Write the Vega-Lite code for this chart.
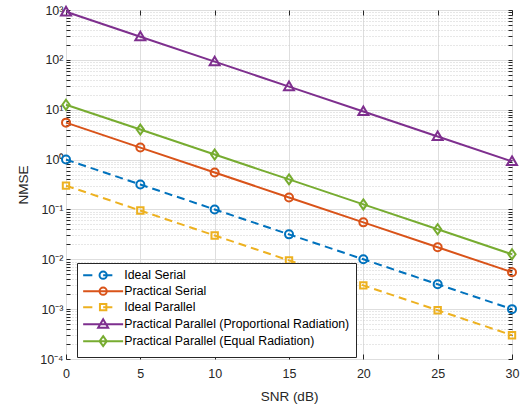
{
  "$schema": "https://vega.github.io/schema/vega-lite/v6.json",
  "width": 446,
  "height": 349,
  "autosize": "none",
  "padding": {"left": 66, "top": 10, "right": 14, "bottom": 48},
  "background": "white",
  "config": {
    "font": "Liberation Sans",
    "view": {"stroke": "#262626", "strokeWidth": 1},
    "axis": {
      "domain": false,
      "tickColor": "#262626",
      "labelColor": "#262626",
      "titleColor": "#262626",
      "labelFont": "Liberation Sans",
      "titleFont": "Liberation Sans",
      "titleFontWeight": "normal",
      "labelFontSize": 12.5,
      "titleFontSize": 13.5
    },
    "legend": {
      "orient": "none", "legendX": 11, "legendY": 253,
      "fillColor": "white", "strokeColor": "#262626",
      "padding": 6,
      "symbolSize": 64, "symbolStrokeWidth": 2, "symbolFillColor": "transparent",
      "symbolOffset": 14, "labelOffset": 15,
      "labelFontSize": 12.3, "labelFont": "Liberation Sans", "labelColor": "#000000",
      "rowPadding": 0, "labelLimit": 400
    }
  },
  "data": {
    "values": [
      {"series": "Ideal Serial", "snr": 0, "nmse": 1},
      {"series": "Ideal Serial", "snr": 5, "nmse": 0.316},
      {"series": "Ideal Serial", "snr": 10, "nmse": 0.1},
      {"series": "Ideal Serial", "snr": 15, "nmse": 0.0316},
      {"series": "Ideal Serial", "snr": 20, "nmse": 0.01},
      {"series": "Ideal Serial", "snr": 25, "nmse": 0.00316},
      {"series": "Ideal Serial", "snr": 30, "nmse": 0.001},
      {"series": "Practical Serial", "snr": 0, "nmse": 5.5},
      {"series": "Practical Serial", "snr": 5, "nmse": 1.74},
      {"series": "Practical Serial", "snr": 10, "nmse": 0.55},
      {"series": "Practical Serial", "snr": 15, "nmse": 0.174},
      {"series": "Practical Serial", "snr": 20, "nmse": 0.055},
      {"series": "Practical Serial", "snr": 25, "nmse": 0.0174},
      {"series": "Practical Serial", "snr": 30, "nmse": 0.0055},
      {"series": "Ideal Parallel", "snr": 0, "nmse": 0.3},
      {"series": "Ideal Parallel", "snr": 5, "nmse": 0.095},
      {"series": "Ideal Parallel", "snr": 10, "nmse": 0.03},
      {"series": "Ideal Parallel", "snr": 15, "nmse": 0.0095},
      {"series": "Ideal Parallel", "snr": 20, "nmse": 0.003},
      {"series": "Ideal Parallel", "snr": 25, "nmse": 0.00095},
      {"series": "Ideal Parallel", "snr": 30, "nmse": 0.0003},
      {"series": "Practical Parallel (Proportional Radiation)", "snr": 0, "nmse": 920},
      {"series": "Practical Parallel (Proportional Radiation)", "snr": 5, "nmse": 291},
      {"series": "Practical Parallel (Proportional Radiation)", "snr": 10, "nmse": 92},
      {"series": "Practical Parallel (Proportional Radiation)", "snr": 15, "nmse": 29.1},
      {"series": "Practical Parallel (Proportional Radiation)", "snr": 20, "nmse": 9.2},
      {"series": "Practical Parallel (Proportional Radiation)", "snr": 25, "nmse": 2.91},
      {"series": "Practical Parallel (Proportional Radiation)", "snr": 30, "nmse": 0.92},
      {"series": "Practical Parallel (Equal Radiation)", "snr": 0, "nmse": 12.6},
      {"series": "Practical Parallel (Equal Radiation)", "snr": 5, "nmse": 4},
      {"series": "Practical Parallel (Equal Radiation)", "snr": 10, "nmse": 1.26},
      {"series": "Practical Parallel (Equal Radiation)", "snr": 15, "nmse": 0.4},
      {"series": "Practical Parallel (Equal Radiation)", "snr": 20, "nmse": 0.126},
      {"series": "Practical Parallel (Equal Radiation)", "snr": 25, "nmse": 0.04},
      {"series": "Practical Parallel (Equal Radiation)", "snr": 30, "nmse": 0.0126}
    ]
  },
  "encoding": {
    "x": {"field": "snr", "type": "quantitative", "scale": {"domain": [0, 30], "nice": false, "zero": false}, "axis": null},
    "y": {"field": "nmse", "type": "quantitative", "scale": {"type": "log", "domain": [0.0001, 1000], "nice": false}, "axis": null},
    "color": {
      "field": "series", "type": "nominal",
      "scale": {
        "domain": ["Ideal Serial", "Practical Serial", "Ideal Parallel", "Practical Parallel (Proportional Radiation)", "Practical Parallel (Equal Radiation)"],
        "range": ["#0072BD", "#D95319", "#EDB120", "#7E2F8E", "#77AC30"]
      },
      "legend": {"title": null}
    }
  },
  "layer": [
    {
      "mark": {"type": "point", "filled": false, "strokeWidth": 2, "size": 64, "opacity": 0},
      "encoding": {
        "shape": {
          "field": "series", "type": "nominal",
          "scale": {
            "domain": ["Ideal Serial", "Practical Serial", "Ideal Parallel", "Practical Parallel (Proportional Radiation)", "Practical Parallel (Equal Radiation)"],
            "range": [
              "M-5,0H-2.7M0,0H2.3M0.9,0A0.9,0.9 0 1,1 -0.9,0A0.9,0.9 0 1,1 0.9,0",
              "M-5,0H5M0.9,0A0.9,0.9 0 1,1 -0.9,0A0.9,0.9 0 1,1 0.9,0",
              "M-5,0H-2.7M0,0H2.3M-0.8,-0.8H0.8V0.8H-0.8Z",
              "M-5,0H5M0,-1.25L1.25,0.9H-1.25Z",
              "M-5,0H5M0,-1.25L0.9,0L0,1.25L-0.9,0Z"
            ]
          },
          "legend": {"title": null}
        }
      }
    },
    {
      "transform": [{"filter": {"field": "series", "oneOf": ["Practical Serial", "Practical Parallel (Proportional Radiation)", "Practical Parallel (Equal Radiation)"]}}],
      "mark": {"type": "line", "strokeWidth": 2},
      "encoding": {
        "x": {
          "field": "snr", "type": "quantitative",
          "scale": {"domain": [0, 30], "nice": false, "zero": false},
          "axis": {
            "orient": "bottom", "values": [0, 5, 10, 15, 20, 25, 30],
            "grid": true, "gridColor": "#dedede", "tickSize": -5,
            "labelPadding": 13, "labelFlush": false, "title": "SNR (dB)", "titlePadding": 10
          }
        },
        "y": {
          "field": "nmse", "type": "quantitative",
          "scale": {"type": "log", "domain": [0.0001, 1000], "nice": false},
          "axis": {
            "orient": "left",
            "values": [0.0001,0.0002,0.0003,0.0004,0.0005,0.0006,0.0007,0.0008,0.0009,0.001,0.002,0.003,0.004,0.005,0.006,0.007,0.008,0.009,0.01,0.02,0.03,0.04,0.05,0.06,0.07,0.08,0.09,0.1,0.2,0.3,0.4,0.5,0.6,0.7,0.8,0.9,1,2,3,4,5,6,7,8,9,10,20,30,40,50,60,70,80,90,100,200,300,400,500,600,700,800,900,1000],
            "labelExpr": "indexof([0.0001,0.001,0.01,0.1,1,10,100,1000], datum.value) < 0 ? '' : ['10⁻⁴','10⁻³','10⁻²','10⁻¹','10⁰','10¹','10²','10³'][indexof([0.0001,0.001,0.01,0.1,1,10,100,1000], datum.value)]",
            "labelOverlap": false,
            "grid": true,
            "gridColor": {"condition": {"test": "indexof([0.0001,0.001,0.01,0.1,1,10,100,1000], datum.value) >= 0", "value": "#dedede"}, "value": "#cfcfcf"},
            "gridDash": {"condition": {"test": "indexof([0.0001,0.001,0.01,0.1,1,10,100,1000], datum.value) >= 0", "value": []}, "value": [1, 2]},
            "tickSize": -4,
            "labelPadding": 7,
            "title": "NMSE", "titlePadding": 9
          }
        }
      }
    },
    {
      "transform": [{"filter": {"field": "series", "oneOf": ["Ideal Serial", "Ideal Parallel"]}}],
      "mark": {"type": "line", "strokeWidth": 2, "strokeDash": [8, 5]},
      "encoding": {
        "x": {
          "field": "snr", "type": "quantitative",
          "axis": {"orient": "top", "values": [0, 5, 10, 15, 20, 25, 30], "grid": false, "labels": false, "tickSize": -5, "title": null}
        },
        "y": {
          "field": "nmse", "type": "quantitative",
          "axis": {
            "orient": "right",
            "values": [0.0001,0.0002,0.0003,0.0004,0.0005,0.0006,0.0007,0.0008,0.0009,0.001,0.002,0.003,0.004,0.005,0.006,0.007,0.008,0.009,0.01,0.02,0.03,0.04,0.05,0.06,0.07,0.08,0.09,0.1,0.2,0.3,0.4,0.5,0.6,0.7,0.8,0.9,1,2,3,4,5,6,7,8,9,10,20,30,40,50,60,70,80,90,100,200,300,400,500,600,700,800,900,1000],
            "grid": false, "labels": false, "tickSize": -4, "title": null
          }
        }
      }
    },
    {
      "transform": [{"filter": {"field": "series", "oneOf": ["Ideal Serial", "Practical Serial"]}}],
      "mark": {"type": "point", "shape": "circle", "filled": false, "strokeWidth": 2, "size": 64, "opacity": 1}
    },
    {
      "transform": [{"filter": {"field": "series", "equal": "Ideal Parallel"}}],
      "mark": {"type": "point", "shape": "M-0.8,-0.8H0.8V0.8H-0.8Z", "filled": false, "strokeWidth": 2, "size": 64, "opacity": 1}
    },
    {
      "transform": [{"filter": {"field": "series", "equal": "Practical Parallel (Proportional Radiation)"}}],
      "mark": {"type": "point", "shape": "M0,-1.25L1.25,0.9H-1.25Z", "filled": false, "strokeWidth": 2, "size": 64, "opacity": 1}
    },
    {
      "transform": [{"filter": {"field": "series", "equal": "Practical Parallel (Equal Radiation)"}}],
      "mark": {"type": "point", "shape": "M0,-1.25L0.9,0L0,1.25L-0.9,0Z", "filled": false, "strokeWidth": 2, "size": 64, "opacity": 1}
    }
  ],
  "resolve": {"axis": {"x": "independent", "y": "independent"}}
}
